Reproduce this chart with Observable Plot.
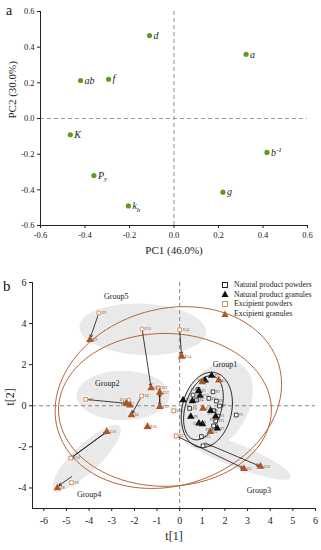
<!DOCTYPE html>
<html><head><meta charset="utf-8">
<script src="https://cdn.jsdelivr.net/npm/d3@7"></script>
<script src="https://cdn.jsdelivr.net/npm/@observablehq/plot@0.6"></script>
<style>
body{margin:0;background:#fff;font-family:"Liberation Serif",serif;}
#wrap{position:relative;width:321px;height:550px;overflow:hidden;background:#fff;}
#pa{position:absolute;left:0;top:0;}
#pb{position:absolute;left:0;top:275px;}
.tag{position:absolute;font-family:"Liberation Serif",serif;color:#111;}
#legend{position:absolute;left:221px;top:280px;font-family:"Liberation Serif",serif;font-size:7.8px;color:#222;}
#legend div{height:9.6px;line-height:9.6px;white-space:nowrap;display:flex;align-items:center;}
#legend svg{margin-right:5px;}
</style></head><body><div id="wrap"><div id="pa"></div><div id="pb"></div>
<div class="tag" style="left:6px;top:3px;font-size:14px;">a</div>
<div class="tag" style="left:3px;top:278px;font-size:15px;">b</div>
<div id="legend"></div>
</div>
<script>
// ---------- Panel a data ----------
const pcaLabels = ["d","a","ab","f","K","b^-1","P_y","g","k_b"];
const pc1 = [-0.11,0.324,-0.42,-0.294,-0.466,0.418,-0.36,0.22,-0.205];
const pc2 = [0.465,0.36,0.213,0.22,-0.091,-0.19,-0.32,-0.413,-0.49];
const pcaTicks = [-0.6,-0.4,-0.2,0,0.2,0.4,0.6];

// ---------- Panel b data ----------
const natPowderLabels = ["P1","P2","P3","P4","P5","P6","P7","P8","P9","P10","P11","P12","F1","P13","P14"];
const natPowderT1 = [0.81,1.47,0.59,0.74,1.29,1.62,1.76,0.44,1.51,1.69,1.59,1.50,2.50,0.96,1.03];
const natPowderT2 = [0.79,0.68,0.52,0.28,0.36,0.23,-0.01,-0.13,-0.24,-0.50,-0.74,-0.98,-0.45,-1.50,-1.95];

const natGranLabels = ["P1","P2","P3","P4","P5","P6","P8","P9","P10","P7","P11","P12"];
const natGranT1 = [1.41,1.12,0.15,0.56,0.84,1.37,0.49,0.85,1.01,1.66,1.59,0.90];
const natGranT2 = [1.47,1.24,0.28,0.23,0.73,-0.24,-0.53,-0.85,-0.89,-1.10,-0.51,0.50];

const excPowderLabels = ["E9","E15","E14","E7","E11","E6","E17","E13","E3","E10","E8"];
const excPowderT1 = [-3.57,-1.66,0.00,-4.15,-2.24,-1.68,-0.94,-0.26,-0.15,-4.81,-4.78];
const excPowderT2 = [4.52,3.74,3.70,0.31,0.28,0.48,0.87,-0.24,-1.47,-2.55,-3.74];

const excGranLabels = ["E9","E15","E14","E17","E12","E7","E11","E6","E16","E10","E8","E3","E18","E2","E1","E4","E5"];
const excGranT1 = [-3.96,-1.26,0.09,-0.88,-0.88,-2.35,-2.20,-2.13,-1.42,-3.22,-5.40,2.84,3.57,1.73,1.00,1.03,1.35];
const excGranT2 = [3.21,0.86,2.40,0.65,-0.05,0.12,0.03,-0.45,-1.02,-1.26,-4.00,-3.06,-2.95,1.24,1.16,-0.13,-1.26];

// arrows: start/end in score units, and whether double-headed
const arrowX1 = [-3.57,-1.66,0.00,-4.15,-1.68,-0.88,-4.81,-4.70,-0.15,1.03];
const arrowY1 = [4.52,3.74,3.70,0.31,0.48,0.58,-2.55,-3.40,-1.47,-1.77];
const arrowX2 = [-3.94,-1.27,0.08,-2.38,-2.09,-0.88,-3.24,-5.33,2.80,3.50];
const arrowY2 = [3.33,0.95,2.50,0.12,-0.36,0.02,-1.28,-3.88,-3.03,-2.92];
const arrowBoth = [false,false,false,false,false,true,true,false,false,false];

// group regions (grey): centre, semi-axes, rotation (deg)
const groupNames = ["Group5","Group2","Group4","Group3","Group1"];
const groupCX = [-1.63,-2.50,-4.10,2.43,1.60];
const groupCY = [3.72,0.50,-2.53,-2.39,0.00];
const groupRX = [2.80,2.05,2.10,2.70,1.45];
const groupRY = [1.25,1.20,0.62,0.55,2.30];
const groupAng = [-3,0,47,-24,-25];
const groupLabelT1 = [-2.8,-3.2,-4.0,3.5,2.0];
const groupLabelT2 = [5.3,1.1,-4.3,-4.1,2.0];

// confidence ellipses (brown) and group1 ellipses (black)
const brownCX = [-0.5,-0.65];
const brownCY = [0.4,-0.2];
const brownRX = [5.15,4.7];
const brownRY = [4.25,3.72];
const brownAng = [25,0];
const blackCX = [1.2,1.05];
const blackCY = [-0.2,-0.1];
const blackRX = [1.1,0.8];
const blackRY = [1.85,1.6];
const blackAng = [-10,-15];

const xTicksB = [-6,-5,-4,-3,-2,-1,0,1,2,3,4,5,6];
const yTicksB = [-4,-2,0,2,4,6];

const legendItems = ["Natural product powders","Natural product granules","Excipient powders","Excipient granules"];

// ---------- colours ----------
const green = "#5b9e1f";
const tan = "#c79a5b";
const brownTri = "#a85a24";
const brownLine = "#b4653c";
const grey = "#e9e9e9";
const pink = "#fdebf2";

// ---------- helpers ----------
const fmt1 = d => d.toFixed(1);
const fmt0 = d => String(d);
function ellipsePath(cx, cy, rx, ry, angDeg, id) {
  const a = angDeg * Math.PI / 180, out = [];
  for (let i = 0; i < 120; i++) {
    const t = i / 120 * 2 * Math.PI;
    const u = rx * Math.cos(t), v = ry * Math.sin(t);
    out.push({x: cx + u * Math.cos(a) - v * Math.sin(a), y: cy + u * Math.sin(a) + v * Math.cos(a), id});
  }
  return out;
}
function zip3(xs, ys, ls, kind) { return xs.map((x, i) => ({x, y: ys[i], label: ls[i], kind})); }

// ---------- Panel a ----------
const pca = zip3(pc1, pc2, pcaLabels);
const plotA = Plot.plot({
  width: 321, height: 262,
  marginLeft: 40, marginRight: 14, marginTop: 11, marginBottom: 37,
  x: {domain: [-0.6, 0.6]}, y: {domain: [-0.6, 0.6]},
  style: {fontFamily: "Liberation Serif", fontSize: "8.5px", color: "#222", background: "transparent"},
  marks: [
    Plot.ruleX([0], {stroke: "#999", strokeWidth: 1.1, strokeDasharray: "4,3"}),
    Plot.ruleY([0], {stroke: "#999", strokeWidth: 1.1, strokeDasharray: "4,3"}),
    Plot.axisX({ticks: pcaTicks, tickFormat: fmt1, tickSize: 3, tickPadding: 3, label: null, fontSize: 8.5}),
    Plot.axisY({ticks: pcaTicks, tickFormat: fmt1, tickSize: 3, tickPadding: 3, label: null, fontSize: 8.5}),
    Plot.ruleX([-0.6], {stroke: "#222"}),
    Plot.ruleY([-0.6], {stroke: "#222"}),
    Plot.dot(pca, {x: "x", y: "y", r: 2.6, fill: green}),
    Plot.text(pca, {x: "x", y: "y", text: "label", dx: 4, textAnchor: "start", fontStyle: "italic", fontSize: 10, fill: "#222"}),
    Plot.text(["PC1 (46.0%)"], {frameAnchor: "bottom", dy: 28, fontSize: 11, fill: "#222"}),
    Plot.text(["PC2 (30.0%)"], {frameAnchor: "left", dx: -28, rotate: -90, fontSize: 11, fill: "#222"})
  ]
});
d3.select(plotA).selectAll("text").each(function() {
  const t = this.textContent;
  const m = t.match(/^([^_^]+)([_^])(.+)$/);
  if (!m) return;
  this.textContent = m[1];
  d3.select(this).append("tspan").attr("font-size", "70%")
    .attr("dy", m[2] === "_" ? "0.35em" : "-0.45em").text(m[3]);
});
document.getElementById("pa").appendChild(plotA);

// ---------- Panel b ----------
const natP = zip3(natPowderT1, natPowderT2, natPowderLabels, "n");
const natG = zip3(natGranT1, natGranT2, natGranLabels, "n");
const excP = zip3(excPowderT1, excPowderT2, excPowderLabels, "e");
const excG = zip3(excGranT1, excGranT2, excGranLabels, "e");
const groups = groupNames.flatMap((n, i) => ellipsePath(groupCX[i], groupCY[i], groupRX[i], groupRY[i], groupAng[i], n));
const browns = brownCX.flatMap((c, i) => ellipsePath(c, brownCY[i], brownRX[i], brownRY[i], brownAng[i], "b" + i));
const blacks = blackCX.flatMap((c, i) => ellipsePath(c, blackCY[i], blackRX[i], blackRY[i], blackAng[i], "k" + i));
const arrows = arrowX1.map((x1, i) => ({x1, y1: arrowY1[i], x2: arrowX2[i], y2: arrowY2[i], both: arrowBoth[i]}));
const groupLbl = groupNames.map((n, i) => ({x: groupLabelT1[i], y: groupLabelT2[i], label: n}));

const optsB = {
  width: 321, height: 275,
  marginLeft: 32, marginRight: 6, marginTop: 7, marginBottom: 42,
  x: {domain: [-6.5, 6]}, y: {domain: [-5, 6]}
};

// greedy placement of the tiny point labels (avoid overlapping each other)
const probe = Plot.plot({...optsB, marks: [Plot.dot(natP, {x: "x", y: "y"})]});
const sx = probe.scale("x"), sy = probe.scale("y");
const cands = [
  {key: "r", dx: 3, dy: 0, anchor: "start"},
  {key: "l", dx: -3, dy: 0, anchor: "end"},
  {key: "tr", dx: 2, dy: -3.5, anchor: "start"},
  {key: "br", dx: 2, dy: 3.5, anchor: "start"},
  {key: "tl", dx: -2, dy: -3.5, anchor: "end"},
  {key: "bl", dx: -2, dy: 3.5, anchor: "end"}
];
const placed = [];
const allPts = [...excG, ...excP, ...natG, ...natP];
const fs = 3.8;
allPts.forEach(p => {
  const px = sx.apply(p.x), py = sy.apply(p.y);
  const w = p.label.length * fs * 0.52, h = fs;
  let best = null;
  for (const c of cands) {
    const x0 = c.anchor === "start" ? px + c.dx : px + c.dx - w;
    const box = {x0, x1: x0 + w, y0: py + c.dy - h / 2, y1: py + c.dy + h / 2};
    const hit = placed.some(b => !(box.x1 < b.x0 || box.x0 > b.x1 || box.y1 < b.y0 || box.y0 > b.y1));
    if (!hit) { best = {c, box}; break; }
  }
  if (!best) {
    const c = cands[0], x0 = px + c.dx;
    best = {c, box: {x0, x1: x0 + w, y0: py - h / 2, y1: py + h / 2}};
  }
  p.pos = best.c.key;
  placed.push(best.box);
});
const labelMarks = cands.map(c => Plot.text(allPts.filter(p => p.pos === c.key), {
  x: "x", y: "y", text: "label", dx: c.dx, dy: c.dy, textAnchor: c.anchor,
  fontSize: fs, fill: p => p.kind === "e" ? "#6a4a40" : "#444"
}));

const plotB = Plot.plot({
  ...optsB,
  style: {fontFamily: "Liberation Serif", fontSize: "10px", color: "#222", background: "transparent"},
  marks: [
    Plot.line(groups, {x: "x", y: "y", z: "id", curve: "linear-closed", fill: grey, stroke: "none"}),
    Plot.dot([...excP, ...excG], {x: "x", y: "y", r: 4.5, fill: pink}),
    Plot.ruleX([0], {stroke: "#888", strokeWidth: 1, strokeDasharray: "4,3"}),
    Plot.ruleY([0], {stroke: "#888", strokeWidth: 1, strokeDasharray: "4,3"}),
    Plot.line(browns, {x: "x", y: "y", z: "id", curve: "linear-closed", stroke: brownLine, strokeWidth: 1}),
    Plot.line(blacks, {x: "x", y: "y", z: "id", curve: "linear-closed", stroke: "#222", strokeWidth: 1}),
    Plot.arrow(arrows, {x1: "x1", y1: "y1", x2: "x2", y2: "y2", stroke: "#111", strokeWidth: 0.8, headLength: 5, insetStart: 2}),
    Plot.arrow(arrows.filter(d => d.both), {x1: "x2", y1: "y2", x2: "x1", y2: "y1", stroke: "#111", strokeWidth: 0.8, headLength: 5, insetStart: 2}),
    Plot.dot(natP, {x: "x", y: "y", symbol: "square", r: 2.1, stroke: "#111", strokeWidth: 0.8, fill: "white"}),
    Plot.dot(natG, {x: "x", y: "y", symbol: "triangle", r: 2.8, fill: "#111"}),
    Plot.dot(excP, {x: "x", y: "y", symbol: "square", r: 2.1, stroke: tan, strokeWidth: 1, fill: "white"}),
    Plot.dot(excG, {x: "x", y: "y", symbol: "triangle", r: 2.9, fill: brownTri}),
    ...labelMarks,
    Plot.text(groupLbl, {x: "x", y: "y", text: "label", fontSize: 8, fill: "#222"}),
    Plot.axisX({ticks: xTicksB, tickFormat: fmt0, tickSize: 3, tickPadding: 5, label: null, fontSize: 10}),
    Plot.axisY({ticks: yTicksB, tickFormat: fmt0, tickSize: 3, tickPadding: 3, label: null, fontSize: 10}),
    Plot.ruleX([-6.5], {stroke: "#222"}),
    Plot.ruleY([-5], {stroke: "#222"}),
    Plot.text(["t[1]"], {frameAnchor: "bottom", dy: 31, fontSize: 12, fill: "#222"}),
    Plot.text(["t[2]"], {frameAnchor: "left", dx: -22, dy: 10, rotate: -90, fontSize: 12, fill: "#222"})
  ]
});
document.getElementById("pb").appendChild(plotB);

// ---------- Legend ----------
const legSym = [
  '<rect x="1.5" y="1.5" width="5" height="5" fill="white" stroke="#111" stroke-width="0.9"/>',
  '<path d="M4,0.5 L7.5,7 L0.5,7 Z" fill="#111"/>',
  '<rect x="1.5" y="1.5" width="5" height="5" fill="white" stroke="' + tan + '" stroke-width="1"/>',
  '<path d="M4,0.5 L7.5,7 L0.5,7 Z" fill="' + brownTri + '"/>'
];
const leg = d3.select("#legend");
legendItems.forEach((t, i) => {
  const row = leg.append("div");
  row.html('<svg width="8" height="8">' + legSym[i] + '</svg><span>' + t + '</span>');
});
</script>
</body></html>
